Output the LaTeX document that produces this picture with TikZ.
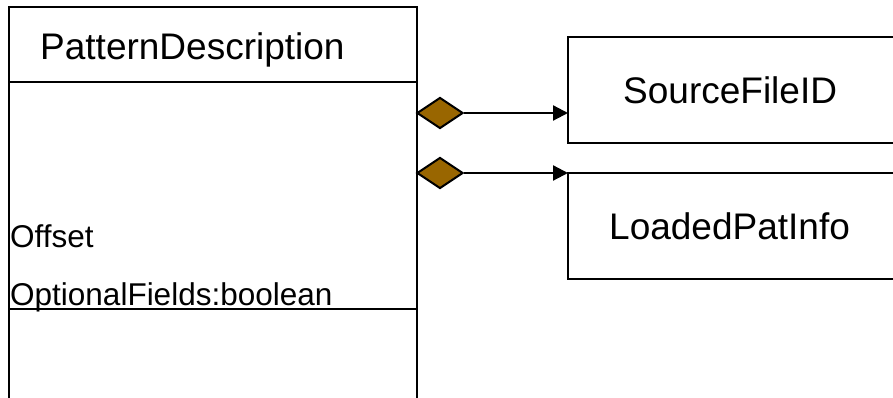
\documentclass[tikz,border=0pt]{standalone}
\usepackage{fontspec}
\setmainfont{Liberation Sans}
\usetikzlibrary{shapes.geometric,positioning,arrows.meta}
\definecolor{aggbrown}{RGB}{153,102,0}
\tikzset{
x=1pt, y=-1pt,
>={Triangle[length=15pt,width=15pt]},
classbox/.style={draw, line width=2.8pt, rectangle, inner sep=0pt, outer sep=0pt},
agg/.style={draw, diamond, fill=aggbrown, line width=2pt, inner sep=0pt,
  minimum width=46pt, minimum height=31pt},
assoc/.style={->, line width=2.2pt},
title/.style={anchor=base west, inner sep=0pt, font=\fontsize{37}{40}\selectfont},
attr/.style={anchor=base west, inner sep=0pt, font=\fontsize{31.5}{34}\selectfont},
}
\begin{document}
\begin{tikzpicture}
    \useasboundingbox (0,0) rectangle (893,398);
        % class PatternDescription
        \node[classbox,anchor=north west,minimum width=408pt,minimum height=75pt] (pd) at (9,7) {};
        \draw[line width=2.8pt] (pd.south west) -- (9,420);
        \draw[line width=2.8pt] (pd.south east) -- (417,420);
        \draw[line width=2.2pt] (9,309) -- (417,309);
        \node[title] (pdname) at (40,60) {PatternDescription};
        \node[attr] (offset) at (10,247) {Offset};
        \node[attr] (optf) at (10,305) {OptionalFields:boolean};
    
        % parts
        \node[classbox,anchor=north west,minimum width=360pt,minimum height=106pt] (src) at (568,37) {};
        \node[classbox,minimum width=360pt,minimum height=106pt,below=30pt of src.south west,anchor=north west] (lpi) {};
        \node[title] (srcname) at (623,104) {SourceFileID};
        \node[title] (lpiname) at (609,239) {LoadedPatInfo};
    
        \node[agg] (d1) at (440,113) {};
        \node[agg] (d2) at (440,173) {};
        \draw[assoc] (d1.east) -- (d1.east -| src.west);
        \draw[assoc] (d2.east) -- (lpi.north west);
    \end{tikzpicture}
\end{document}
